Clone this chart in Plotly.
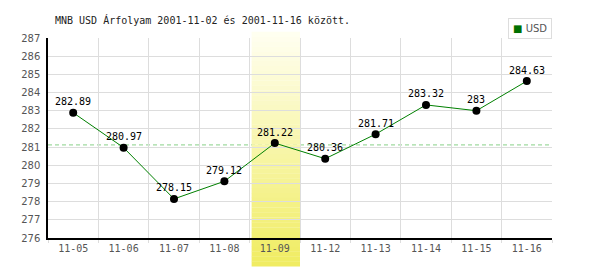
import plotly.graph_objects as go

dates = ["11-05", "11-06", "11-07", "11-08", "11-09", "11-12", "11-13", "11-14", "11-15", "11-16"]
usd = [282.89, 280.97, 278.15, 279.12, 281.22, 280.36, 281.71, 283.32, 283.00, 284.63]
avg_level = 281.12
highlight_index = 4
title_text = "MNB USD Árfolyam 2001-11-02 és 2001-11-16 között."
y_ticks = list(range(276, 288))

W, H = 600, 270
ml, mr, mt, mb = 48, 48, 38, 31.5
ph = H - mt - mb
x_idx = list(range(len(dates)))

fig = go.Figure()

fig.add_trace(go.Scatter(
    x=x_idx, y=usd, mode="lines+markers",
    line=dict(color="#008000", width=1),
    marker=dict(color="black", size=8),
    showlegend=False, cliponaxis=False, hoverinfo="skip"))

shapes = []
shapes.append(dict(type="line", xref="paper", yref="y", x0=0, x1=1, y0=avg_level, y1=avg_level,
                   line=dict(color="#88D088", width=1, dash="4px,3px"), layer="between"))
top_px, bot_px = 32, 267
n = 48
c0 = (255, 255, 242)
c1 = (240, 236, 96)
y_top = (H - mb - top_px) / ph
y_bot = (H - mb - bot_px) / ph
for i in range(n):
    t = (i + 0.5) / n
    col = tuple(int(round(c0[k] + (c1[k] - c0[k]) * t)) for k in range(3))
    ya = y_top + (y_bot - y_top) * i / n
    yb = y_top + (y_bot - y_top) * (i + 1) / n
    shapes.append(dict(type="rect", xref="x", yref="paper",
                       x0=highlight_index - 0.46, x1=highlight_index + 0.5,
                       y0=yb, y1=ya + 0.001, fillcolor="rgb(%d,%d,%d)" % col,
                       line=dict(width=0), layer="between"))

annotations = [
    dict(xref="paper", yref="paper", x=(53 - ml) / (W - ml - mr), y=(H - mb - 20) / ph,
         xanchor="left", yanchor="middle", showarrow=False, text=title_text,
         font=dict(family="DejaVu Sans Mono", size=10, color="#222222")),
    dict(xref="paper", yref="paper", x=1, y=(H - mb - 39) / ph, xanchor="right", yanchor="bottom",
         showarrow=False,
         text='<span style="color:#007000">■</span> <span style="color:#555555">USD</span>',
         font=dict(family="DejaVu Sans", size=10, color="#555555"),
         bordercolor="#DDDDDD", borderwidth=1, borderpad=4, bgcolor="white"),
]
for xi, v in zip(x_idx, usd):
    annotations.append(dict(x=xi, y=v, xref="x", yref="y", text="%g" % v, showarrow=False,
                            xanchor="center", yanchor="middle", yshift=11,
                            font=dict(family="DejaVu Sans Mono", size=10, color="black")))

fig.update_layout(
    width=W, height=H,
    margin=dict(l=ml, r=mr, t=mt, b=mb, pad=0),
    paper_bgcolor="white", plot_bgcolor="white",
    shapes=shapes,
    showlegend=False,
    xaxis=dict(range=[-0.5, len(dates) - 0.5], tickvals=x_idx, ticktext=dates,
               showgrid=False, ticks="", zeroline=False,
               tickfont=dict(family="DejaVu Sans Mono", size=10, color="#555555"),
               showline=True, linecolor="black", linewidth=1.5,
               minor=dict(tickvals=[i - 0.5 for i in range(len(dates) + 1)], showgrid=True,
                          gridcolor="#DDDDDD", gridwidth=1, ticks="outside", ticklen=3,
                          tickcolor="#DDDDDD")),
    yaxis=dict(range=[276, 287], tickvals=y_ticks, showgrid=True, gridcolor="#DDDDDD",
               gridwidth=1, zeroline=False, ticks="",
               tickfont=dict(family="DejaVu Sans", size=10, color="#555555"),
               showline=True, linecolor="black", linewidth=1.5, ticklabelstandoff=4),
    annotations=annotations,
)

fig.write_html("out.html")
